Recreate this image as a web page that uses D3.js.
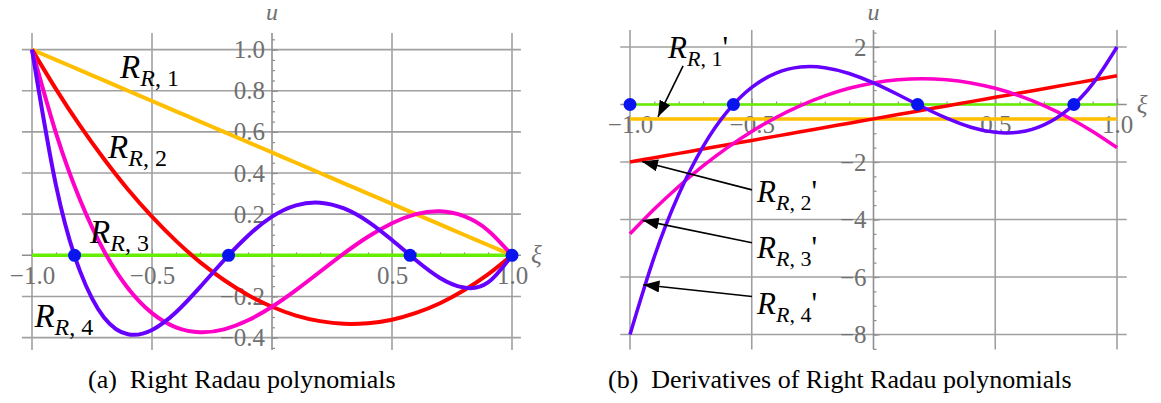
<!DOCTYPE html>
<html>
<head>
<meta charset="utf-8">
<script src="https://cdn.jsdelivr.net/npm/d3@7"></script>
<style>
  body { margin: 0; background: #fff; }
  svg { display: block; }
</style>
</head>
<body>
<svg id="fig" width="1161" height="403"></svg>
<script>
// sample abscissae (xi) used by every curve
const xi = [-1, -0.9, -0.8, -0.7, -0.6, -0.5, -0.4, -0.3, -0.2, -0.1, 0,
            0.1, 0.2, 0.3, 0.4, 0.5, 0.6, 0.7, 0.8, 0.9, 1];

// (a) right Radau polynomials
const rr1 = [1, 0.95, 0.9, 0.85, 0.8, 0.75, 0.7, 0.65, 0.6, 0.55, 0.5,
             0.45, 0.4, 0.35, 0.3, 0.25, 0.2, 0.15, 0.1, 0.05, 0];
const rr2 = [1, 0.808, 0.63, 0.468, 0.32, 0.188, 0.07, -0.033, -0.12, -0.193, -0.25,
             -0.293, -0.32, -0.333, -0.33, -0.313, -0.28, -0.233, -0.17, -0.093, 0];
const rr3 = [1, 0.594, 0.27, 0.021, -0.16, -0.281, -0.35, -0.374, -0.36, -0.316, -0.25,
             -0.169, -0.08, 0.009, 0.09, 0.156, 0.2, 0.214, 0.19, 0.121, 0];
const rr4 = [1, 0.34, -0.077, -0.302, -0.384, -0.363, -0.277, -0.155, -0.024, 0.095, 0.188,
             0.243, 0.256, 0.228, 0.164, 0.074, -0.024, -0.11, -0.157, -0.132, 0];

// (b) derivatives
const dr1 = [-0.5, -0.5, -0.5, -0.5, -0.5, -0.5, -0.5, -0.5, -0.5, -0.5, -0.5,
             -0.5, -0.5, -0.5, -0.5, -0.5, -0.5, -0.5, -0.5, -0.5, -0.5];
const dr2 = [-2, -1.85, -1.7, -1.55, -1.4, -1.25, -1.1, -0.95, -0.8, -0.65, -0.5,
             -0.35, -0.2, -0.05, 0.1, 0.25, 0.4, 0.55, 0.7, 0.85, 1];
const dr3 = [-4.5, -3.638, -2.85, -2.138, -1.5, -0.938, -0.45, -0.038, 0.3, 0.563, 0.75,
             0.863, 0.9, 0.863, 0.75, 0.563, 0.3, -0.038, -0.45, -0.938, -1.5];
const dr4 = [-8, -5.291, -3.13, -1.464, -0.24, 0.594, 1.09, 1.301, 1.28, 1.079, 0.75,
             0.346, -0.08, -0.476, -0.79, -0.969, -0.96, -0.711, -0.17, 0.716, 2];

// zero line and marked nodes
const zeroXi = [-1, 1];
const zeroU = [0, 0];
const nodesA = [-0.8228, -0.1811, 0.5753, 1];
const nodesB = [-1, -0.5753, 0.1811, 0.8228];

// ticks
const uTicksA = [-0.4, -0.2, 0.2, 0.4, 0.6, 0.8, 1.0];
const uTicksB = [-8, -6, -4, -2, 2];
const xiTicks = [-1, -0.5, 0.5, 1];

// series labels (anchor in data coords)
const labelsA = [
  { k: "1", xi: -0.633, u: 0.862 },
  { k: "2", xi: -0.683, u: 0.472 },
  { k: "3", xi: -0.758, u: 0.06 },
  { k: "4", xi: -0.99, u: -0.349 }
];
const labelsB = [
  { k: "1", xi: -0.844, u: 1.61, tail: [-0.782, 1.34], tip: [-0.885, -0.43] },
  { k: "2", xi: -0.478, u: -3.39, tail: [-0.499, -2.97], tip: [-0.951, -1.98] },
  { k: "3", xi: -0.478, u: -5.33, tail: [-0.499, -4.81], tip: [-0.948, -4.03] },
  { k: "4", xi: -0.478, u: -7.27, tail: [-0.499, -6.68], tip: [-0.945, -6.27] }
];

const colors = ["#ffbf00", "#ff0000", "#ff00c8", "#6600ff"];
const serif = "'Liberation Serif','Times New Roman',serif";
const gridCol = "#a0a0a0";
const tickCol = "#707070";

const svg = d3.select("#fig");

svg.append("defs").append("marker")
  .attr("id", "arr")
  .attr("markerUnits", "userSpaceOnUse")
  .attr("markerWidth", 18).attr("markerHeight", 14)
  .attr("refX", 16).attr("refY", 6)
  .attr("orient", "auto")
  .append("path")
  .attr("d", "M0,0 L16,6 L0,12 Z")
  .attr("fill", "#000");

function panel(o) {
  const g = svg.append("g");
  const x = o.x, y = o.y;

  // grid
  g.append("g").selectAll("line").data(o.xiGrid).join("line")
    .attr("x1", d => x(d)).attr("x2", d => x(d))
    .attr("y1", y(o.uMax)).attr("y2", y(o.uMin))
    .attr("stroke", gridCol).attr("stroke-width", 1.6);
  g.append("g").selectAll("line").data(o.uGrid).join("line")
    .attr("x1", x(o.xiMin)).attr("x2", x(o.xiMax))
    .attr("y1", d => y(d)).attr("y2", d => y(d))
    .attr("stroke", gridCol).attr("stroke-width", 1.6);

  // u axis: ticks on right, labels on left
  const uax = g.append("g").attr("transform", `translate(${x(0)},0)`);
  uax.append("g").call(d3.axisRight(y).tickValues(o.uMinor).tickSize(3).tickFormat(""));
  uax.append("g").call(d3.axisRight(y).tickValues(o.uTicks).tickSize(6).tickFormat(""));
  uax.append("g").call(d3.axisLeft(y).tickValues(o.uTicks).tickSize(0).tickPadding(7)
    .tickFormat(o.fmt));
  uax.selectAll(".domain").remove();
  uax.append("line").attr("y1", y(o.uMax)).attr("y2", y(o.uMin))
    .attr("stroke", "#8f8f8f").attr("stroke-width", 1.6);

  // xi axis: ticks up, labels below
  const xax = g.append("g").attr("transform", `translate(0,${y(0)})`);
  xax.append("g").call(d3.axisBottom(x).tickValues(o.xiMinor).tickSize(-3).tickFormat(""));
  xax.append("g").call(d3.axisBottom(x).tickValues(xiTicks).tickSize(-6).tickFormat(""));
  xax.append("g").call(d3.axisBottom(x).tickValues(xiTicks).tickSize(0).tickPadding(11)
    .tickFormat(d => d3.format(".1f")(d).replace("-", "\u2212")));
  xax.selectAll(".domain").remove();
  xax.append("line").attr("x1", x(o.xiMin)).attr("x2", x(o.xiMax))
    .attr("stroke", "#8f8f8f").attr("stroke-width", 1.6);

  g.selectAll(".tick line").attr("stroke", "#8f8f8f").attr("stroke-width", 1.2);
  g.selectAll(".tick text").attr("font-family", serif).attr("font-size", 25).attr("fill", tickCol);

  // axis names
  g.append("text").attr("x", x(0)).attr("y", 20).attr("text-anchor", "middle")
    .attr("font-family", serif).attr("font-style", "italic").attr("font-size", 24)
    .attr("fill", tickCol).text("u");
  g.append("text").attr("x", x(o.xiMax) + 10).attr("y", y(0) + 8)
    .attr("font-family", serif).attr("font-style", "italic").attr("font-size", 25)
    .attr("fill", tickCol).text("\u03be");

  // zero line
  g.append("path")
    .attr("d", d3.line().x(d => x(d)).y((d, i) => y(zeroU[i]))(zeroXi))
    .attr("stroke", "#66ee00").attr("stroke-width", o.zw).attr("fill", "none");

  // curves
  const line = d3.line().curve(d3.curveNatural);
  o.series.forEach((s, k) => {
    g.append("path")
      .attr("d", line(xi.map((v, i) => [x(v), y(s[i])])))
      .attr("fill", "none").attr("stroke", colors[k])
      .attr("stroke-width", o.lw).attr("stroke-linejoin", "round");
  });

  // nodes
  g.append("g").selectAll("circle").data(o.nodes).join("circle")
    .attr("cx", d => x(d)).attr("cy", y(0)).attr("r", 6.5).attr("fill", "#0a14ee");

  // labels
  o.labels.forEach(l => {
    if (l.tail) {
      g.append("line")
        .attr("x1", x(l.tail[0])).attr("y1", y(l.tail[1]))
        .attr("x2", x(l.tip[0])).attr("y2", y(l.tip[1]))
        .attr("stroke", "#000").attr("stroke-width", 1.6)
        .attr("marker-end", "url(#arr)");
    }
    const t = g.append("text").attr("x", x(l.xi)).attr("y", y(l.u))
      .attr("font-family", serif).attr("font-size", o.ls[0]).attr("fill", "#000")
      .style("white-space", "pre");
    t.append("tspan").attr("font-style", "italic").text("R");
    t.append("tspan").attr("font-style", "italic").attr("font-size", o.ls[1]).attr("dy", 8).text("R");
    t.append("tspan").attr("font-size", o.ls[1]).text(", " + l.k);
    if (o.prime) t.append("tspan").attr("dy", -8).text("'");
  });
}

panel({
  x: d3.scaleLinear().domain([-1, 1]).range([32, 512]),
  y: d3.scaleLinear().domain([0, 1]).range([255.3, 49.6]),
  xiMin: -1.042, xiMax: 1.037, uMin: -0.46, uMax: 1.081,
  xiGrid: [-1, -0.5, 0.5, 1], uGrid: [-0.4, -0.2, 0.2, 0.4, 0.6, 0.8, 1.0],
  uTicks: uTicksA, uMinor: d3.range(-0.45, 1.06, 0.05),
  xiMinor: d3.range(-1, 1.01, 0.1),
  fmt: d => d3.format(".1f")(d).replace("-", "\u2212"),
  series: [rr1, rr2, rr3, rr4], nodes: nodesA, labels: labelsA,
  lw: 4, zw: 3.5, prime: false, ls: [33, 24]
});

panel({
  x: d3.scaleLinear().domain([-1, 1]).range([630, 1117]),
  y: d3.scaleLinear().domain([0, 2]).range([104.5, 47]),
  xiMin: -1.04, xiMax: 1.04, uMin: -8.52, uMax: 2.59,
  xiGrid: [-1, -0.5, 0.5, 1], uGrid: [-8, -6, -4, -2, 2],
  uTicks: uTicksB, uMinor: d3.range(-8.5, 2.6, 0.5),
  xiMinor: d3.range(-1, 1.01, 0.1),
  fmt: d => String(d).replace("-", "\u2212"),
  series: [dr1, dr2, dr3, dr4], nodes: nodesB, labels: labelsB,
  lw: 3.5, zw: 2.5, prime: true, ls: [31, 22]
});

// captions
svg.append("text").attr("x", 88).attr("y", 388)
  .attr("font-family", serif).attr("font-size", 26).style("white-space", "pre")
  .text("(a)  Right Radau polynomials");
svg.append("text").attr("x", 608).attr("y", 388)
  .attr("font-family", serif).attr("font-size", 26).style("white-space", "pre")
  .text("(b)  Derivatives of Right Radau polynomials");
</script>
</body>
</html>
